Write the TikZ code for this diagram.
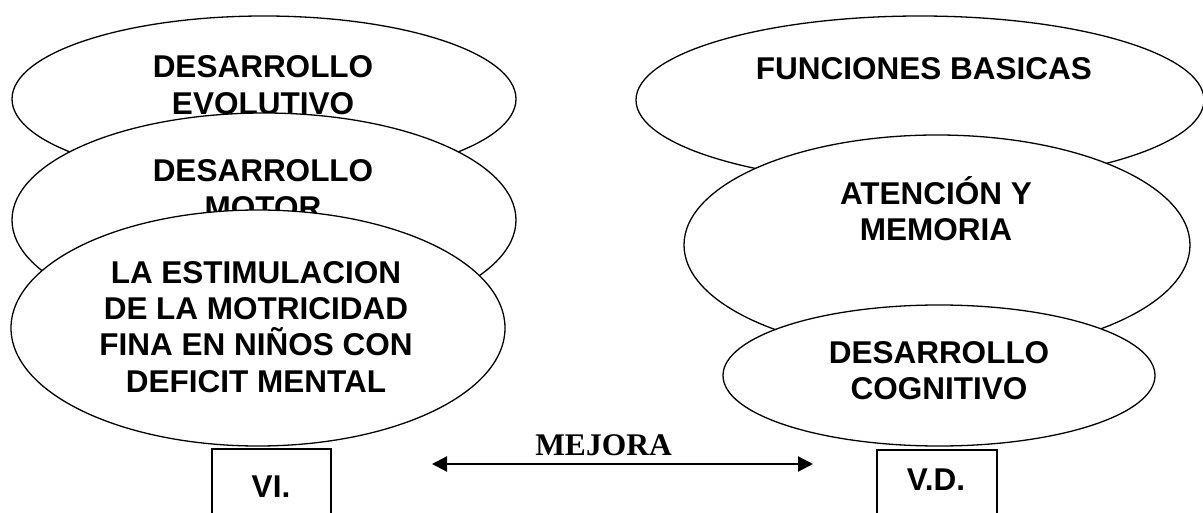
\documentclass[tikz,border=0pt]{standalone}
\usepackage{fontspec}
\setmainfont{Liberation Sans}
\newfontfamily\serifb{Liberation Serif}
\usetikzlibrary{shapes.geometric,arrows.meta}
\begin{document}
\begin{tikzpicture}[x=1pt,y=-1pt,
  oval/.style={ellipse, draw, fill=white, line width=1.3pt, inner sep=0pt},
  lbl/.style={font=\bfseries\fontsize{31.5}{36.3}\selectfont, align=center, anchor=base, inner sep=0pt},
  vbox/.style={draw, line width=1.5pt, anchor=north, inner sep=0pt, minimum height=90pt},
  link/.style={line width=2.3pt, {Triangle[length=15pt,width=15pt]}-{Triangle[length=15pt,width=15pt]}}]
\fill[white] (0,0) rectangle (1203,513);
\clip (0,0) rectangle (1203,513);
% left stack (anchor = baseline of the last line)
\node[oval, minimum width=504pt, minimum height=166pt] (e1) at (264,99) {};
\node[lbl] (t1) at (263,114.3) {DESARROLLO\\EVOLUTIVO};
\node[oval, minimum width=504pt, minimum height=214pt] (e2) at (264,220) {};
\node[lbl] (t2) at (263,218.3) {DESARROLLO\\MOTOR};
\node[oval, minimum width=494pt, minimum height=236pt] (e3) at (258,328) {};
\node[lbl] (t3) at (256,392) {LA ESTIMULACION\\DE LA MOTRICIDAD\\FINA EN NIÑOS CON\\DEFICIT MENTAL};
% right stack
\node[oval, minimum width=568pt, minimum height=168pt] (f1) at (920,100) {};
\node[lbl] (u1) at (924,80) {FUNCIONES BASICAS};
\node[oval, minimum width=506pt, minimum height=220pt] (f2) at (937,245) {};
\node[lbl] (u2) at (936,241) {ATENCIÓN Y\\MEMORIA};
\node[oval, minimum width=432pt, minimum height=141pt] (f3) at (939,375.5) {};
\node[lbl] (u3) at (939,399.5) {DESARROLLO\\COGNITIVO};
% boxes
\node[vbox, minimum width=119pt] (vi) at (271.5,448) {};
\node[lbl] (vit) at (271,497) {VI.};
\node[vbox, minimum width=120pt] (vd) at (937,449) {};
\node[lbl] (vdt) at (936,490) {V.D.};
% arrow
\coordinate (a1) at (432,464);
\coordinate (a2) at (813,464);
\draw[link] (a1) -- (a2);
\node[lbl, font=\serifb\bfseries\fontsize{31.5}{36}\selectfont] (mj) at (603.5,455) {MEJORA};
\end{tikzpicture}
\end{document}
